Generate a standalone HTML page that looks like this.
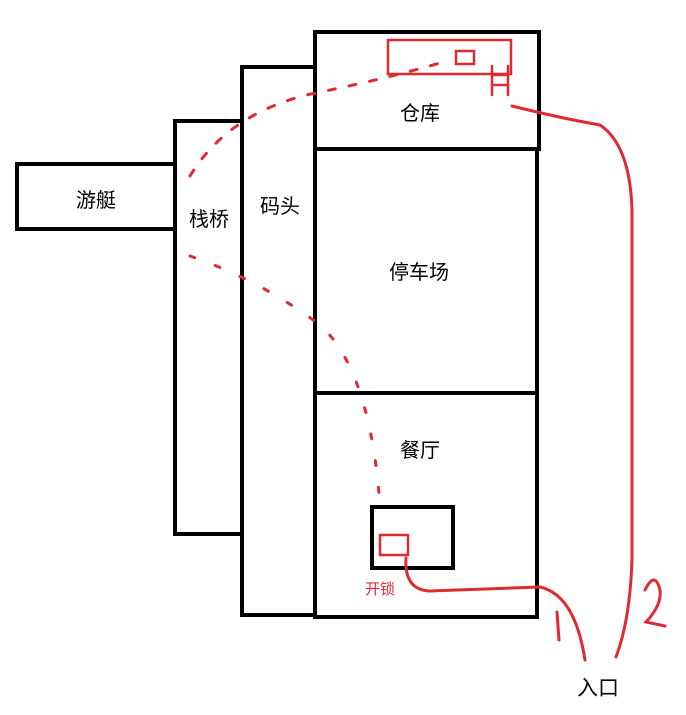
<!DOCTYPE html>
<html><head><meta charset="utf-8"><style>
html,body{margin:0;padding:0;background:#fff;}
svg{display:block}
text{font-family:"Liberation Sans","Noto Sans CJK SC",sans-serif;}
</style></head><body>
<svg width="686" height="715" viewBox="0 0 686 715" xmlns="http://www.w3.org/2000/svg">
<g fill="none" stroke="#000" stroke-width="4">
<rect x="17" y="164" width="158" height="65"/>
<rect x="175" y="121" width="67" height="413"/>
<rect x="242" y="67" width="73" height="548"/>
<rect x="315" y="32" width="224" height="117"/>
<path d="M315 149 V617 H537 V149"/>
<line x1="315" y1="393" x2="537" y2="393"/>
<rect x="372" y="507" width="81" height="61"/>
</g>
<g font-size="20" fill="#000" text-anchor="middle">
<text x="96" y="207">游艇</text>
<text x="209" y="226">栈桥</text>
<text x="280" y="213">码头</text>
<text x="420" y="120">仓库</text>
<text x="419" y="279">停车场</text>
<text x="420" y="457">餐厅</text>
<text x="598" y="695" font-size="21">入口</text>
</g>
<g fill="none" stroke="#e02a32" stroke-width="3" stroke-linecap="round">
<rect x="388" y="40" width="123" height="34" stroke-width="2.5"/>
<rect x="456" y="51" width="18" height="13" stroke-width="2.5"/>
<rect x="380" y="535" width="28" height="20" stroke-width="2.5"/>
<path d="M190 176 Q230 110 320 92 Q390 78 450 60" stroke-dasharray="7 14"/>
<path d="M190 256 Q260 280 320 325 Q370 370 380 505" stroke-dasharray="5 22"/>
<path d="M492 66 V95 M508 66 V95 M492 75 H508 M492 85 H508" stroke-width="2.5"/>
<path d="M512 106 Q560 118 600 125 Q630 145 632 210 L632 560 Q630 620 616 657"/>
<path d="M406 558 Q404 590 430 591 L540 587 Q575 595 585 660"/>
<path d="M557 612 L559 640"/>
<path d="M645 590 Q655 570 660 590 Q662 605 646 622 L665 626"/>
</g>
<text x="380" y="594" font-size="15" fill="#e02a32" text-anchor="middle">开锁</text>
</svg>
</body></html>
